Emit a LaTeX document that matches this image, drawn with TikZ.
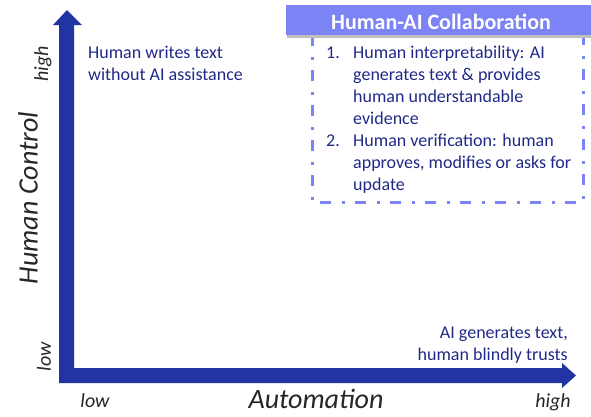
\documentclass[tikz,border=0pt]{standalone}
\usepackage{fontspec}
\setmainfont{Carlito}
\definecolor{axisblue}{HTML}{2233A3}
\definecolor{txtblue}{HTML}{202A86}
\definecolor{headfill}{HTML}{7C83F4}
\definecolor{dashcol}{HTML}{7C83F4}
\definecolor{labgray}{HTML}{262626}
\newcommand{\firststrut}{\rule{0pt}{14bp}}
\begin{document}
\begin{tikzpicture}[x=1bp,y=-1bp,
  bluetext/.style={text=txtblue,inner sep=0pt,font=\fontsize{18bp}{22bp}\selectfont},
  smalllab/.style={text=labgray,inner sep=0pt,font=\fontsize{20bp}{24bp}\selectfont\itshape},
  biglab/.style={text=labgray,inner sep=0pt,font=\fontsize{28bp}{32bp}\selectfont\itshape},
  headbox/.style={fill=headfill,draw=none},
  dashbox/.style={draw=dashcol,line width=3bp,dash pattern=on 11bp off 10.5bp on 3bp off 10.5bp}]
\useasboundingbox (0,0) rectangle (591,416);
% axes
\coordinate (O) at (59,383);
\coordinate (ytip) at (67,10);
\coordinate (xtip) at (576,375.5);
\fill[axisblue] (O) -- (59,25) -- (53,25) -- (ytip) -- (82,25) -- (74,25) -- (74,368)
  -- (562,368) -- (562,363) -- (xtip) -- (562,388) -- (562,383) -- cycle;
% axis labels
\node[smalllab,rotate=90] (yhigh) at (43,64) {high};
\node[smalllab,rotate=90] (ylow) at (44,357) {low};
\node[biglab,rotate=90] (ylab) at (28,198) {Human Control};
\node[smalllab,anchor=base] (xlow) at (95,407) {low};
\node[smalllab,anchor=base] (xhigh) at (553,407) {high};
\node[biglab,anchor=base] (xlab) at (316,408.5) {Automation};
% corner texts
\node[bluetext,anchor=north west,align=left] (tl) at (88,44)
  {\firststrut Human writes text\\without AI assistance};
\node[bluetext,anchor=north east,align=right] (br) at (568,324)
  {\firststrut AI generates text,\\human blindly trusts};
% collaboration box
\draw[dashbox] (312,35) -- (312,202) -- (583,202) -- (583,35);
\fill[black!25] (287,7) rectangle (591,37.5);
\fill[headfill] (286,5) rectangle (591,35);
\node[text=white,inner sep=0pt,anchor=base,font=\fontsize{22bp}{26bp}\selectfont\bfseries] (head) at (441,29.5) {Human-AI Collaboration};
\node[bluetext,anchor=base west] (n1) at (326,58) {1.};
\node[bluetext,anchor=base west] (n2) at (326,146) {2.};
\node[bluetext,anchor=north west,align=left] (list) at (353,44)
  {\firststrut Human interpretability: AI\\generates text \& provides\\human understandable\\evidence\\Human verification: human\\approves, modifies or asks for\\update};
\end{tikzpicture}
\end{document}
